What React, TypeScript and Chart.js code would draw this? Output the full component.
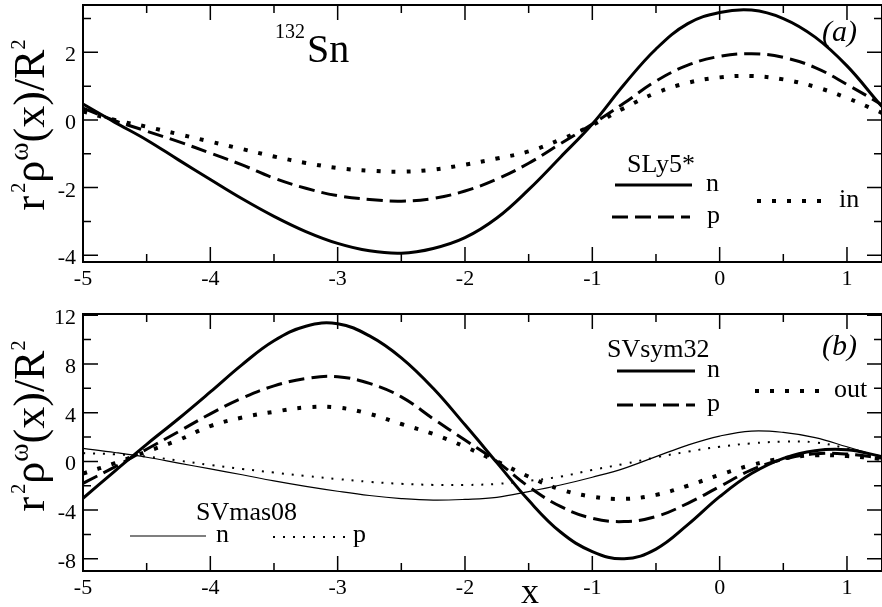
import React, { useEffect, useRef } from "react";
import { Chart, registerables } from "chart.js";

Chart.register(...registerables);

const SERIF = '"Liberation Serif", "Times New Roman", Times, serif';

// ---------------- data ----------------
const xValues = [-5, -4.75, -4.5, -4.25, -4, -3.75, -3.5, -3.25, -3, -2.75, -2.5, -2.25, -2, -1.75, -1.5, -1.25, -1, -0.75, -0.5, -0.25, 0, 0.25, 0.5, 0.75, 1, 1.25, 1.28];

// panel (a): SLy5*
const sly5N = [0.47, -0.07, -0.59, -1.18, -1.76, -2.33, -2.85, -3.3, -3.65, -3.87, -3.94, -3.8, -3.48, -2.9, -2.06, -1.1, -0.12, 1.05, 2.1, 2.85, 3.18, 3.25, 3.0, 2.45, 1.6, 0.5, 0.38];
const sly5P = [0.35, -0.02, -0.33, -0.64, -0.98, -1.33, -1.72, -2.02, -2.24, -2.35, -2.4, -2.32, -2.1, -1.75, -1.28, -0.7, -0.12, 0.5, 1.15, 1.62, 1.88, 1.96, 1.85, 1.55, 1.05, 0.5, 0.4];
const sly5In = [0.25, 0.0, -0.2, -0.42, -0.64, -0.86, -1.08, -1.27, -1.42, -1.5, -1.53, -1.47, -1.32, -1.14, -0.93, -0.58, -0.15, 0.35, 0.8, 1.1, 1.26, 1.3, 1.2, 0.98, 0.65, 0.25, 0.2];

// panel (b): SVsym32 and SVmas08
const svsymN = [-3.03, -0.8, 1.4, 3.5, 5.7, 7.95, 9.9, 11.1, 11.3, 10.3, 8.5, 6.0, 3.0, -0.1, -3.2, -5.8, -7.4, -8.0, -7.2, -5.2, -2.9, -1.0, 0.25, 0.88, 0.95, 0.45, 0.33];
const svsymP = [-1.8, -0.45, 1.0, 2.44, 3.9, 5.2, 6.2, 6.8, 6.95, 6.4, 5.3, 3.5, 1.75, 0.0, -2.07, -3.7, -4.67, -4.94, -4.53, -3.44, -2.07, -0.7, 0.17, 0.62, 0.6, 0.3, 0.25];
const svsymOut = [-1.0, -0.15, 0.8, 1.75, 2.9, 3.6, 4.07, 4.43, 4.42, 3.9, 3.07, 2.25, 1.2, 0.0, -1.25, -2.3, -2.9, -3.08, -2.75, -2.0, -1.1, -0.3, 0.25, 0.5, 0.44, 0.22, 0.17];
const svmasN = [1.07, 0.73, 0.34, -0.14, -0.62, -1.1, -1.6, -2.05, -2.45, -2.8, -3.05, -3.18, -3.12, -2.95, -2.48, -1.94, -1.3, -0.57, 0.39, 1.34, 2.08, 2.49, 2.38, 1.95, 1.2, 0.42, 0.33];
const svmasP = [0.68, 0.58, 0.4, 0.07, -0.3, -0.62, -0.92, -1.2, -1.45, -1.68, -1.84, -1.93, -1.94, -1.85, -1.6, -1.25, -0.7, -0.21, 0.33, 0.8, 1.2, 1.48, 1.62, 1.56, 1.07, 0.45, 0.39];

// ticks
const xMajorTicks = [-5, -4, -3, -2, -1, 0, 1];
const xMinorTicks = [-4.5, -3.5, -2.5, -1.5, -0.5, 0.5];
const xTickLabels = ["-5", "-4", "-3", "-2", "-1", "0", "1"];
const yMajorTicksA = [-4, -2, 0, 2];
const yMinorTicksA = [-3, -1, 1, 3];
const yTickLabelsA = ["-4", "-2", "0", "2"];
const yMajorTicksB = [-8, -4, 0, 4, 8, 12];
const yMinorTicksB = [-6, -2, 2, 6, 10];
const yTickLabelsB = ["-8", "-4", "0", "4", "8", "12"];

// ---------------- styles ----------------
type LineStyle = { width: number; dash: number[] };
const THICK_SOLID: LineStyle = { width: 3, dash: [] };
const DASHED: LineStyle = { width: 3, dash: [16, 7] };
const THICK_DOT: LineStyle = { width: 4, dash: [4, 11] };
const THIN_SOLID: LineStyle = { width: 1.2, dash: [] };
const THIN_DOT: LineStyle = { width: 2, dash: [2, 8] };

type TextPart = { t: string; size: number; up?: number; italic?: boolean; gap?: number };
type TextItem = { parts: TextPart[]; x: number; y: number };
type LegendItem = { style: LineStyle; x1: number; x2: number; y: number; label: string; lx: number; ly: number };

interface PanelSpec {
  height: number;
  padTop: number;
  padBottom: number;
  yMin: number;
  yMax: number;
  yMajor: number[];
  yMinor: number[];
  yLabels: string[];
  series: { data: number[]; style: LineStyle }[];
  texts: TextItem[];
  legend: LegendItem[];
  titleCenterY: number;
  xTitle?: TextItem;
}

const TITLE_PARTS: TextPart[] = [
  { t: "r", size: 44, gap: 3 },
  { t: "2", size: 20, up: 19 },
  { t: "ρ", size: 44 },
  { t: "ω", size: 28, up: 16 },
  { t: "(x)/R", size: 44 },
  { t: "2", size: 20, up: 19 },
];

function fontFor(p: TextPart) {
  return `${p.italic ? "italic " : ""}${p.size}px ${SERIF}`;
}

function measureRich(ctx: CanvasRenderingContext2D, parts: TextPart[]) {
  let w = 0;
  for (const p of parts) {
    ctx.font = fontFor(p);
    w += ctx.measureText(p.t).width + (p.gap || 0);
  }
  return w;
}

function drawRich(ctx: CanvasRenderingContext2D, parts: TextPart[], x: number, y: number) {
  let cx = x;
  for (const p of parts) {
    ctx.font = fontFor(p);
    ctx.fillText(p.t, cx, y - (p.up || 0));
    cx += ctx.measureText(p.t).width + (p.gap || 0);
  }
}

const WIDTH = 882;

function Panel({ spec }: { spec: PanelSpec }) {
  const ref = useRef<HTMLCanvasElement | null>(null);

  useEffect(() => {
    const canvas = ref.current;
    if (!canvas) return;

    const decor = {
      id: "decor",
      afterDraw(chart: any) {
        const { ctx, chartArea: a, scales } = chart;
        const xs = scales.x;
        const ys = scales.y;
        ctx.save();
        ctx.strokeStyle = "#000";
        ctx.fillStyle = "#000";
        ctx.setLineDash([]);
        ctx.lineCap = "butt";

        // inward ticks
        ctx.lineWidth = 1.5;
        ctx.beginPath();
        const xt = (vals: number[], len: number) => {
          for (const v of vals) {
            const px = xs.getPixelForValue(v);
            ctx.moveTo(px, a.bottom);
            ctx.lineTo(px, a.bottom - len);
            ctx.moveTo(px, a.top);
            ctx.lineTo(px, a.top + len);
          }
        };
        const yt = (vals: number[], len: number) => {
          for (const v of vals) {
            const py = ys.getPixelForValue(v);
            ctx.moveTo(a.left, py);
            ctx.lineTo(a.left + len, py);
            ctx.moveTo(a.right, py);
            ctx.lineTo(a.right - len, py);
          }
        };
        xt(xMajorTicks, 15);
        xt(xMinorTicks, 8);
        yt(spec.yMajor, 15);
        yt(spec.yMinor, 8);
        ctx.stroke();

        // frame
        ctx.lineWidth = 2;
        ctx.strokeRect(a.left, a.top, a.right - a.left, a.bottom - a.top);

        // tick labels
        ctx.font = `22px ${SERIF}`;
        ctx.textBaseline = "alphabetic";
        ctx.textAlign = "center";
        xMajorTicks.forEach((v, i) => {
          ctx.fillText(xTickLabels[i], xs.getPixelForValue(v), a.bottom + 23);
        });
        ctx.textAlign = "right";
        spec.yMajor.forEach((v, i) => {
          ctx.fillText(spec.yLabels[i], a.left - 7, ys.getPixelForValue(v) + 9);
        });

        // y title
        ctx.textAlign = "left";
        ctx.save();
        ctx.translate(44, spec.titleCenterY);
        ctx.rotate(-Math.PI / 2);
        const tw = measureRich(ctx, TITLE_PARTS);
        drawRich(ctx, TITLE_PARTS, -tw / 2, 0);
        ctx.restore();

        // annotations
        for (const t of spec.texts) drawRich(ctx, t.parts, t.x, t.y);
        if (spec.xTitle) drawRich(ctx, spec.xTitle.parts, spec.xTitle.x, spec.xTitle.y);

        // legends
        for (const l of spec.legend) {
          ctx.lineWidth = l.style.width;
          ctx.setLineDash(l.style.dash);
          ctx.beginPath();
          ctx.moveTo(l.x1, l.y);
          ctx.lineTo(l.x2, l.y);
          ctx.stroke();
          ctx.setLineDash([]);
          ctx.font = `26px ${SERIF}`;
          ctx.fillText(l.label, l.lx, l.ly);
        }
        ctx.restore();
      },
    };

    const chart = new Chart(canvas, {
      type: "line",
      data: {
        datasets: spec.series.map((s) => ({
          data: xValues.map((x, i) => ({ x, y: s.data[i] })),
          borderColor: "#000",
          borderWidth: s.style.width,
          borderDash: s.style.dash,
          borderCapStyle: "butt",
          borderJoinStyle: "round",
          pointRadius: 0,
          fill: false,
          tension: 0.4,
        })),
      },
      options: {
        responsive: false,
        animation: false,
        devicePixelRatio: 1,
        layout: { padding: { left: 83, right: 0, top: spec.padTop, bottom: spec.padBottom } },
        plugins: { legend: { display: false }, tooltip: { enabled: false } },
        events: [],
        scales: {
          x: { type: "linear", display: false, min: -5, max: 1.275 },
          y: { type: "linear", display: false, min: spec.yMin, max: spec.yMax },
        },
      } as any,
      plugins: [decor],
    });
    return () => chart.destroy();
  }, [spec]);

  return <canvas ref={ref} width={WIDTH} height={spec.height} style={{ display: "block" }} />;
}

const specA: PanelSpec = {
  height: 300,
  padTop: 5,
  padBottom: 38,
  yMin: -4.2,
  yMax: 3.4,
  yMajor: yMajorTicksA,
  yMinor: yMinorTicksA,
  yLabels: yTickLabelsA,
  series: [
    { data: sly5N, style: THICK_SOLID },
    { data: sly5P, style: DASHED },
    { data: sly5In, style: THICK_DOT },
  ],
  texts: [
    { parts: [{ t: "132", size: 20 }], x: 275, y: 38 },
    { parts: [{ t: "Sn", size: 40 }], x: 307, y: 62 },
    { parts: [{ t: "(a)", size: 30, italic: true }], x: 822, y: 41 },
    { parts: [{ t: "SLy5*", size: 26 }], x: 627, y: 172 },
  ],
  legend: [
    { style: THICK_SOLID, x1: 615, x2: 692, y: 185, label: "n", lx: 706, ly: 191 },
    { style: DASHED, x1: 612, x2: 690, y: 217, label: "p", lx: 707, ly: 223 },
    { style: THICK_DOT, x1: 757, x2: 823, y: 201, label: "in", lx: 839, ly: 207 },
  ],
  titleCenterY: 125,
};

const specB: PanelSpec = {
  height: 307,
  padTop: 14,
  padBottom: 36,
  yMin: -9,
  yMax: 12.1,
  yMajor: yMajorTicksB,
  yMinor: yMinorTicksB,
  yLabels: yTickLabelsB,
  series: [
    { data: svmasN, style: THIN_SOLID },
    { data: svmasP, style: THIN_DOT },
    { data: svsymN, style: THICK_SOLID },
    { data: svsymP, style: DASHED },
    { data: svsymOut, style: THICK_DOT },
  ],
  texts: [
    { parts: [{ t: "(b)", size: 30, italic: true }], x: 822, y: 55 },
    { parts: [{ t: "SVsym32", size: 26 }], x: 607, y: 57 },
    { parts: [{ t: "SVmas08", size: 26 }], x: 196, y: 220 },
  ],
  legend: [
    { style: THICK_SOLID, x1: 617, x2: 695, y: 71, label: "n", lx: 707, ly: 77 },
    { style: DASHED, x1: 617, x2: 695, y: 105, label: "p", lx: 707, ly: 111 },
    { style: THICK_DOT, x1: 755, x2: 820, y: 91, label: "out", lx: 834, ly: 97 },
    { style: THIN_SOLID, x1: 130, x2: 206, y: 236, label: "n", lx: 216, ly: 242 },
    { style: THIN_DOT, x1: 273, x2: 347, y: 237, label: "p", lx: 353, ly: 242 },
  ],
  titleCenterY: 126,
  xTitle: { parts: [{ t: "x", size: 36 }], x: 521, y: 303 },
};

export default function App() {
  return (
    <div style={{ position: "absolute", left: 0, top: 0, width: WIDTH, height: 607, background: "#fff", overflow: "hidden" }}>
      <Panel spec={specA} />
      <Panel spec={specB} />
    </div>
  );
}
